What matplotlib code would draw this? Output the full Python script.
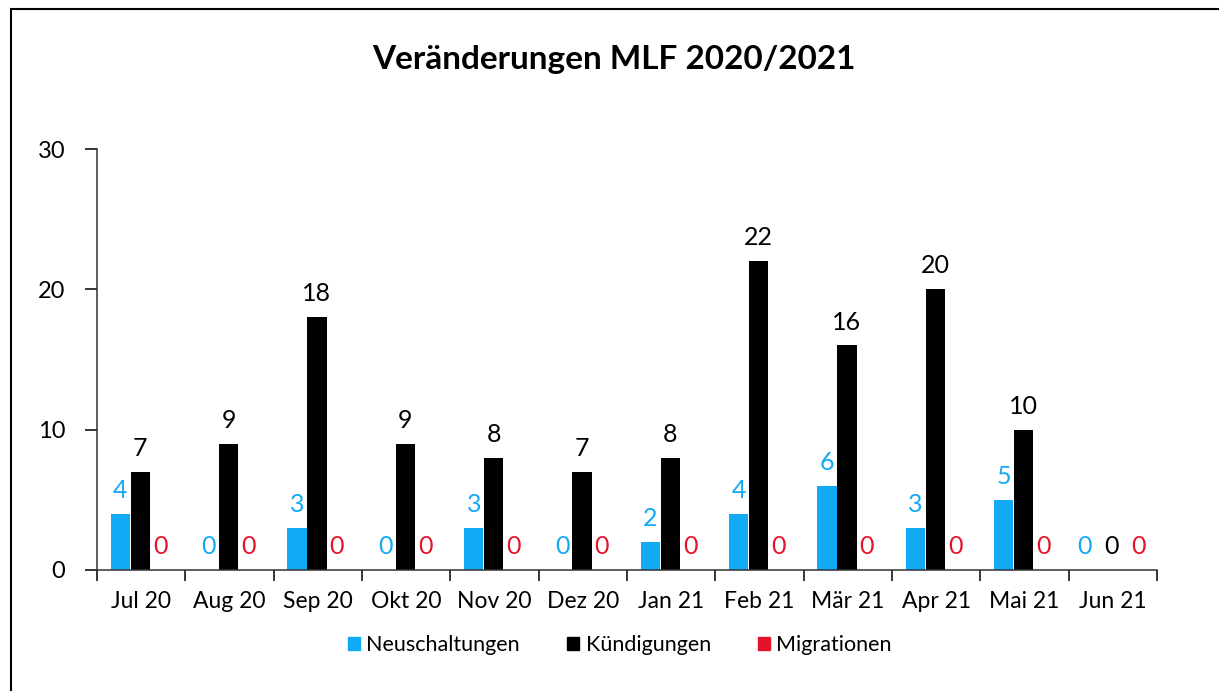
import numpy as np
import matplotlib
matplotlib.use("Agg")
import matplotlib.pyplot as plt
from matplotlib.patches import Rectangle, Patch

plt.rcParams['font.family'] = ['Lato', 'DejaVu Sans']

# ── data ──────────────────────────────────────────────────
months = ["Jul 20", "Aug 20", "Sep 20", "Okt 20", "Nov 20", "Dez 20",
          "Jan 21", "Feb 21", "Mär 21", "Apr 21", "Mai 21", "Jun 21"]
neuschaltungen = [4, 0, 3, 0, 3, 0, 2, 4, 6, 3, 5, 0]
kuendigungen   = [7, 9, 18, 9, 8, 7, 8, 22, 16, 20, 10, 0]
migrationen    = [0, 0, 0, 0, 0, 0, 0, 0, 0, 0, 0, 0]

series = [("Neuschaltungen", neuschaltungen, "#12A9F5"),
          ("Kündigungen", kuendigungen, "#000000"),
          ("Migrationen", migrationen, "#E3132A")]

W, H = 1219, 691
fig = plt.figure(figsize=(W / 100, H / 100), dpi=100)
ax = fig.add_axes([97 / W, 1 - 570 / H, (1157 - 97) / W, (570 - 149) / H])

x = np.arange(len(months))
bw = 0.22
offsets = [-0.235, -0.01, 0.215]
totals = np.array(neuschaltungen) + np.array(kuendigungen) + np.array(migrationen)
for (name, vals, col), off in zip(series, offsets):
    ax.bar(x + off, vals, width=bw, color=col, label=name)
    for xi, v in zip(x, vals):
        # spread labels a bit when the whole group is empty
        lx = xi + (off * 1.35 if totals[xi] == 0 else off)
        ax.text(lx, v + 0.85, str(v), ha="center", va="bottom",
                color=col, fontsize=18)

ax.set_xlim(-0.5, len(months) - 0.5)
ax.set_ylim(0, 30)
ax.set_yticks([0, 10, 20, 30])
ax.set_xticks(x)
ax.set_xticklabels(months, fontsize=16.5)
ax.set_xticks(np.arange(-0.5, len(months)), minor=True)
ax.tick_params(axis="x", which="major", length=0, pad=15)
ax.tick_params(axis="x", which="minor", length=8, width=1.1)
ax.tick_params(axis="y", length=9, width=1.1, labelsize=17, pad=14)
for s in ["top", "right"]:
    ax.spines[s].set_visible(False)
for s in ["left", "bottom"]:
    ax.spines[s].set_linewidth(1.1)
    ax.spines[s].set_color("#333333")

fig.text(614 / W, 1 - 60 / H, "Veränderungen MLF 2020/2021",
         ha="center", va="center", fontsize=24, fontweight="bold")

handles = [Patch(color=c, label=n) for n, _, c in series]
fig.legend(handles=handles, loc="center", bbox_to_anchor=(620 / W, 1 - 645 / H),
           ncol=3, frameon=False, fontsize=15.5, handlelength=0.55,
           handleheight=0.55, handletextpad=0.3, columnspacing=2.2)

fig.patches.append(Rectangle((11 / W, -0.1), 1.2, 1.1 - 9 / H,
                             transform=fig.transFigure, fill=False,
                             edgecolor="black", linewidth=1.5))

fig.savefig("out.png", dpi=100)
